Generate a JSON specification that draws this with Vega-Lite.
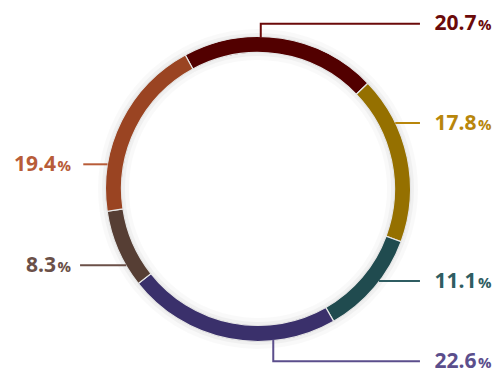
{
  "$schema": "https://vega.github.io/schema/vega-lite/v6.json",
  "width": 493,
  "height": 372,
  "autosize": {"type": "fit", "contains": "padding"},
  "padding": 0,
  "background": "#ffffff",
  "config": {"view": {"stroke": null}},
  "datasets": {
    "slices": [
      {"i": 1, "k": "20.7", "value": 20.7},
      {"i": 2, "k": "17.8", "value": 17.8},
      {"i": 3, "k": "11.1", "value": 11.1},
      {"i": 4, "k": "22.6", "value": 22.6},
      {"i": 5, "k": "8.3", "value": 8.3},
      {"i": 6, "k": "19.4", "value": 19.4}
    ],
    "leaders": [
      {"k": "20.7", "p": 1, "x": 0.018, "y": 1.0},
      {"k": "20.7", "p": 2, "x": 0.018, "y": 1.092},
      {"k": "20.7", "p": 3, "x": 1.062, "y": 1.092},
      {"k": "17.8", "p": 1, "x": 0.9, "y": 0.436},
      {"k": "17.8", "p": 2, "x": 1.062, "y": 0.436},
      {"k": "11.1", "p": 1, "x": 0.793, "y": -0.609},
      {"k": "11.1", "p": 2, "x": 1.062, "y": -0.609},
      {"k": "22.6", "p": 1, "x": 0.1, "y": -0.995},
      {"k": "22.6", "p": 2, "x": 0.1, "y": -1.138},
      {"k": "22.6", "p": 3, "x": 1.062, "y": -1.138},
      {"k": "8.3", "p": 1, "x": -0.864, "y": -0.504},
      {"k": "8.3", "p": 2, "x": -1.167, "y": -0.504},
      {"k": "19.4", "p": 1, "x": -0.987, "y": 0.163},
      {"k": "19.4", "p": 2, "x": -1.146, "y": 0.163}
    ],
    "labels": [
      {"k": "20.7", "x": 1.531, "y": 1.092},
      {"k": "17.8", "x": 1.531, "y": 0.436},
      {"k": "11.1", "x": 1.531, "y": -0.609},
      {"k": "22.6", "x": 1.531, "y": -1.138},
      {"k": "8.3", "x": -1.226, "y": -0.504},
      {"k": "19.4", "x": -1.226, "y": 0.163}
    ]
  },
  "resolve": {"scale": {"color": "independent"}},
  "layer": [
    {
      "data": {"name": "slices"},
      "mark": {"type": "arc", "outerRadius": 160, "innerRadius": 129, "color": "#000000", "opacity": 0.025},
      "encoding": {
        "theta": {"field": "value", "type": "quantitative", "stack": true, "scale": {"range": [-0.4974, 5.7858]}},
        "order": {"field": "i", "type": "quantitative"},
        "x": {"datum": 0, "type": "quantitative", "scale": {"domain": [-1.692, 1.541], "nice": false, "zero": false}, "axis": null},
        "y": {"datum": 0, "type": "quantitative", "scale": {"domain": [-1.19, 1.249], "nice": false, "zero": false}, "axis": null}
      }
    },
    {
      "data": {"name": "slices"},
      "mark": {"type": "arc", "outerRadius": 156, "innerRadius": 133, "color": "#000000", "opacity": 0.035},
      "encoding": {
        "theta": {"field": "value", "type": "quantitative", "stack": true},
        "order": {"field": "i", "type": "quantitative"},
        "x": {"datum": 0, "type": "quantitative"},
        "y": {"datum": 0, "type": "quantitative"}
      }
    },
    {
      "data": {"name": "slices"},
      "mark": {"type": "arc", "outerRadius": 152.5, "innerRadius": 136.5, "stroke": "#e6e6e6", "strokeWidth": 1.2},
      "encoding": {
        "theta": {"field": "value", "type": "quantitative", "stack": true},
        "order": {"field": "i", "type": "quantitative"},
        "x": {"datum": 0, "type": "quantitative"},
        "y": {"datum": 0, "type": "quantitative"},
        "color": {"field": "k", "type": "nominal", "legend": null,
          "scale": {"domain": ["20.7", "17.8", "11.1", "22.6", "8.3", "19.4"],
                    "range": ["#520000", "#957000", "#204b4f", "#3a306b", "#563e34", "#9a4422"]}}
      }
    },
    {
      "data": {"name": "leaders"},
      "mark": {"type": "line", "strokeWidth": 2},
      "encoding": {
        "x": {"field": "x", "type": "quantitative"},
        "y": {"field": "y", "type": "quantitative"},
        "order": {"field": "p", "type": "quantitative"},
        "detail": {"field": "k", "type": "nominal"},
        "color": {"field": "k", "type": "nominal", "legend": null,
          "scale": {"domain": ["20.7", "17.8", "11.1", "22.6", "8.3", "19.4"],
                    "range": ["#6b0a0a", "#b8860b", "#2f5d62", "#5b4e8c", "#6b5048", "#b85c38"]}}
      }
    },
    {
      "data": {"name": "labels"},
      "mark": {"type": "text", "align": "right", "baseline": "alphabetic", "dx": -15, "dy": 6.5, "font": "Open Sans", "fontSize": 21, "fontWeight": "bold"},
      "encoding": {
        "x": {"field": "x", "type": "quantitative"},
        "y": {"field": "y", "type": "quantitative"},
        "text": {"field": "k", "type": "nominal"},
        "color": {"field": "k", "type": "nominal", "legend": null,
          "scale": {"domain": ["20.7", "17.8", "11.1", "22.6", "8.3", "19.4"],
                    "range": ["#6b0a0a", "#b8860b", "#2f5d62", "#5b4e8c", "#6b5048", "#b85c38"]}}
      }
    },
    {
      "data": {"name": "labels"},
      "mark": {"type": "text", "align": "right", "baseline": "alphabetic", "dy": 6.5, "font": "Open Sans", "fontSize": 15, "fontWeight": "bold", "text": "%"},
      "encoding": {
        "x": {"field": "x", "type": "quantitative"},
        "y": {"field": "y", "type": "quantitative"},
        "color": {"field": "k", "type": "nominal", "legend": null,
          "scale": {"domain": ["20.7", "17.8", "11.1", "22.6", "8.3", "19.4"],
                    "range": ["#6b0a0a", "#b8860b", "#2f5d62", "#5b4e8c", "#6b5048", "#b85c38"]}}
      }
    }
  ]
}
